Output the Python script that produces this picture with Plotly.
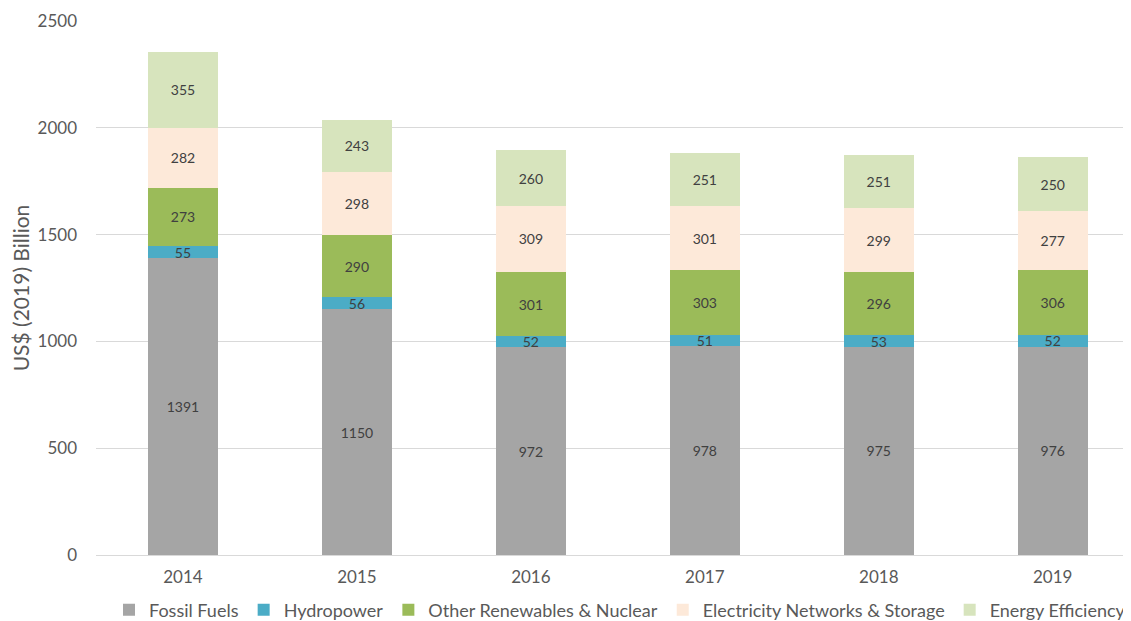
import plotly.graph_objects as go

years = ["2014", "2015", "2016", "2017", "2018", "2019"]
fossil = [1391, 1150, 972, 978, 975, 976]
hydro = [55, 56, 52, 51, 53, 52]
renew = [273, 290, 301, 303, 296, 306]
networks = [282, 298, 309, 301, 299, 277]
efficiency = [355, 243, 260, 251, 251, 250]

series = [
    ("Fossil Fuels", fossil, "#A5A5A5"),
    ("Hydropower", hydro, "#4BACC6"),
    ("Other Renewables & Nuclear", renew, "#9BBB59"),
    ("Electricity Networks & Storage", networks, "#FDE9D9"),
    ("Energy Efficiency", efficiency, "#D7E4BD"),
]

fig = go.Figure()
for name, vals, col in series:
    fig.add_trace(go.Bar(
        x=years, y=vals, name=name,
        marker=dict(color=col, line=dict(width=0)),
        text=[str(v) for v in vals],
        textposition="inside",
        insidetextanchor="middle",
        constraintext="none",
        textangle=0,
        textfont=dict(color="#404040", size=14, family="Lato"),
        width=0.4,
    ))

# page has an 8px body margin, so the figure is offset by 8px right/down
fig.update_layout(
    barmode="stack",
    width=1123, height=613,
    margin=dict(l=88, r=0, t=13, b=66),
    paper_bgcolor="white", plot_bgcolor="white",
    font=dict(family="Lato", color="#595959", size=16),
    uniformtext=dict(minsize=14, mode="show"),
    showlegend=True,
    legend=dict(
        orientation="h", traceorder="normal",
        x=0.037, xanchor="left", yref="container", y=0.018, yanchor="middle",
        font=dict(size=18, color="#595959"),
        itemwidth=30, tracegroupgap=0,
    ),
    xaxis=dict(
        type="category", range=[-0.5, 5.45],
        showgrid=False, showline=False, ticks="",
        tickfont=dict(size=17, color="#595959"),
        ticklabelstandoff=10,
        automargin=False,
    ),
    yaxis=dict(
        range=[0, 2500], dtick=500,
        showgrid=True, gridcolor="#D9D9D9", gridwidth=1,
        zeroline=True, zerolinecolor="#D9D9D9", zerolinewidth=1,
        showline=False, ticks="",
        tickfont=dict(size=17, color="#595959"),
        ticklabelstandoff=18,
        automargin=False,
        title=dict(text="US$ (2019) Billion", font=dict(size=21, color="#595959"), standoff=14),
    ),
)

fig.write_html("out.html")
